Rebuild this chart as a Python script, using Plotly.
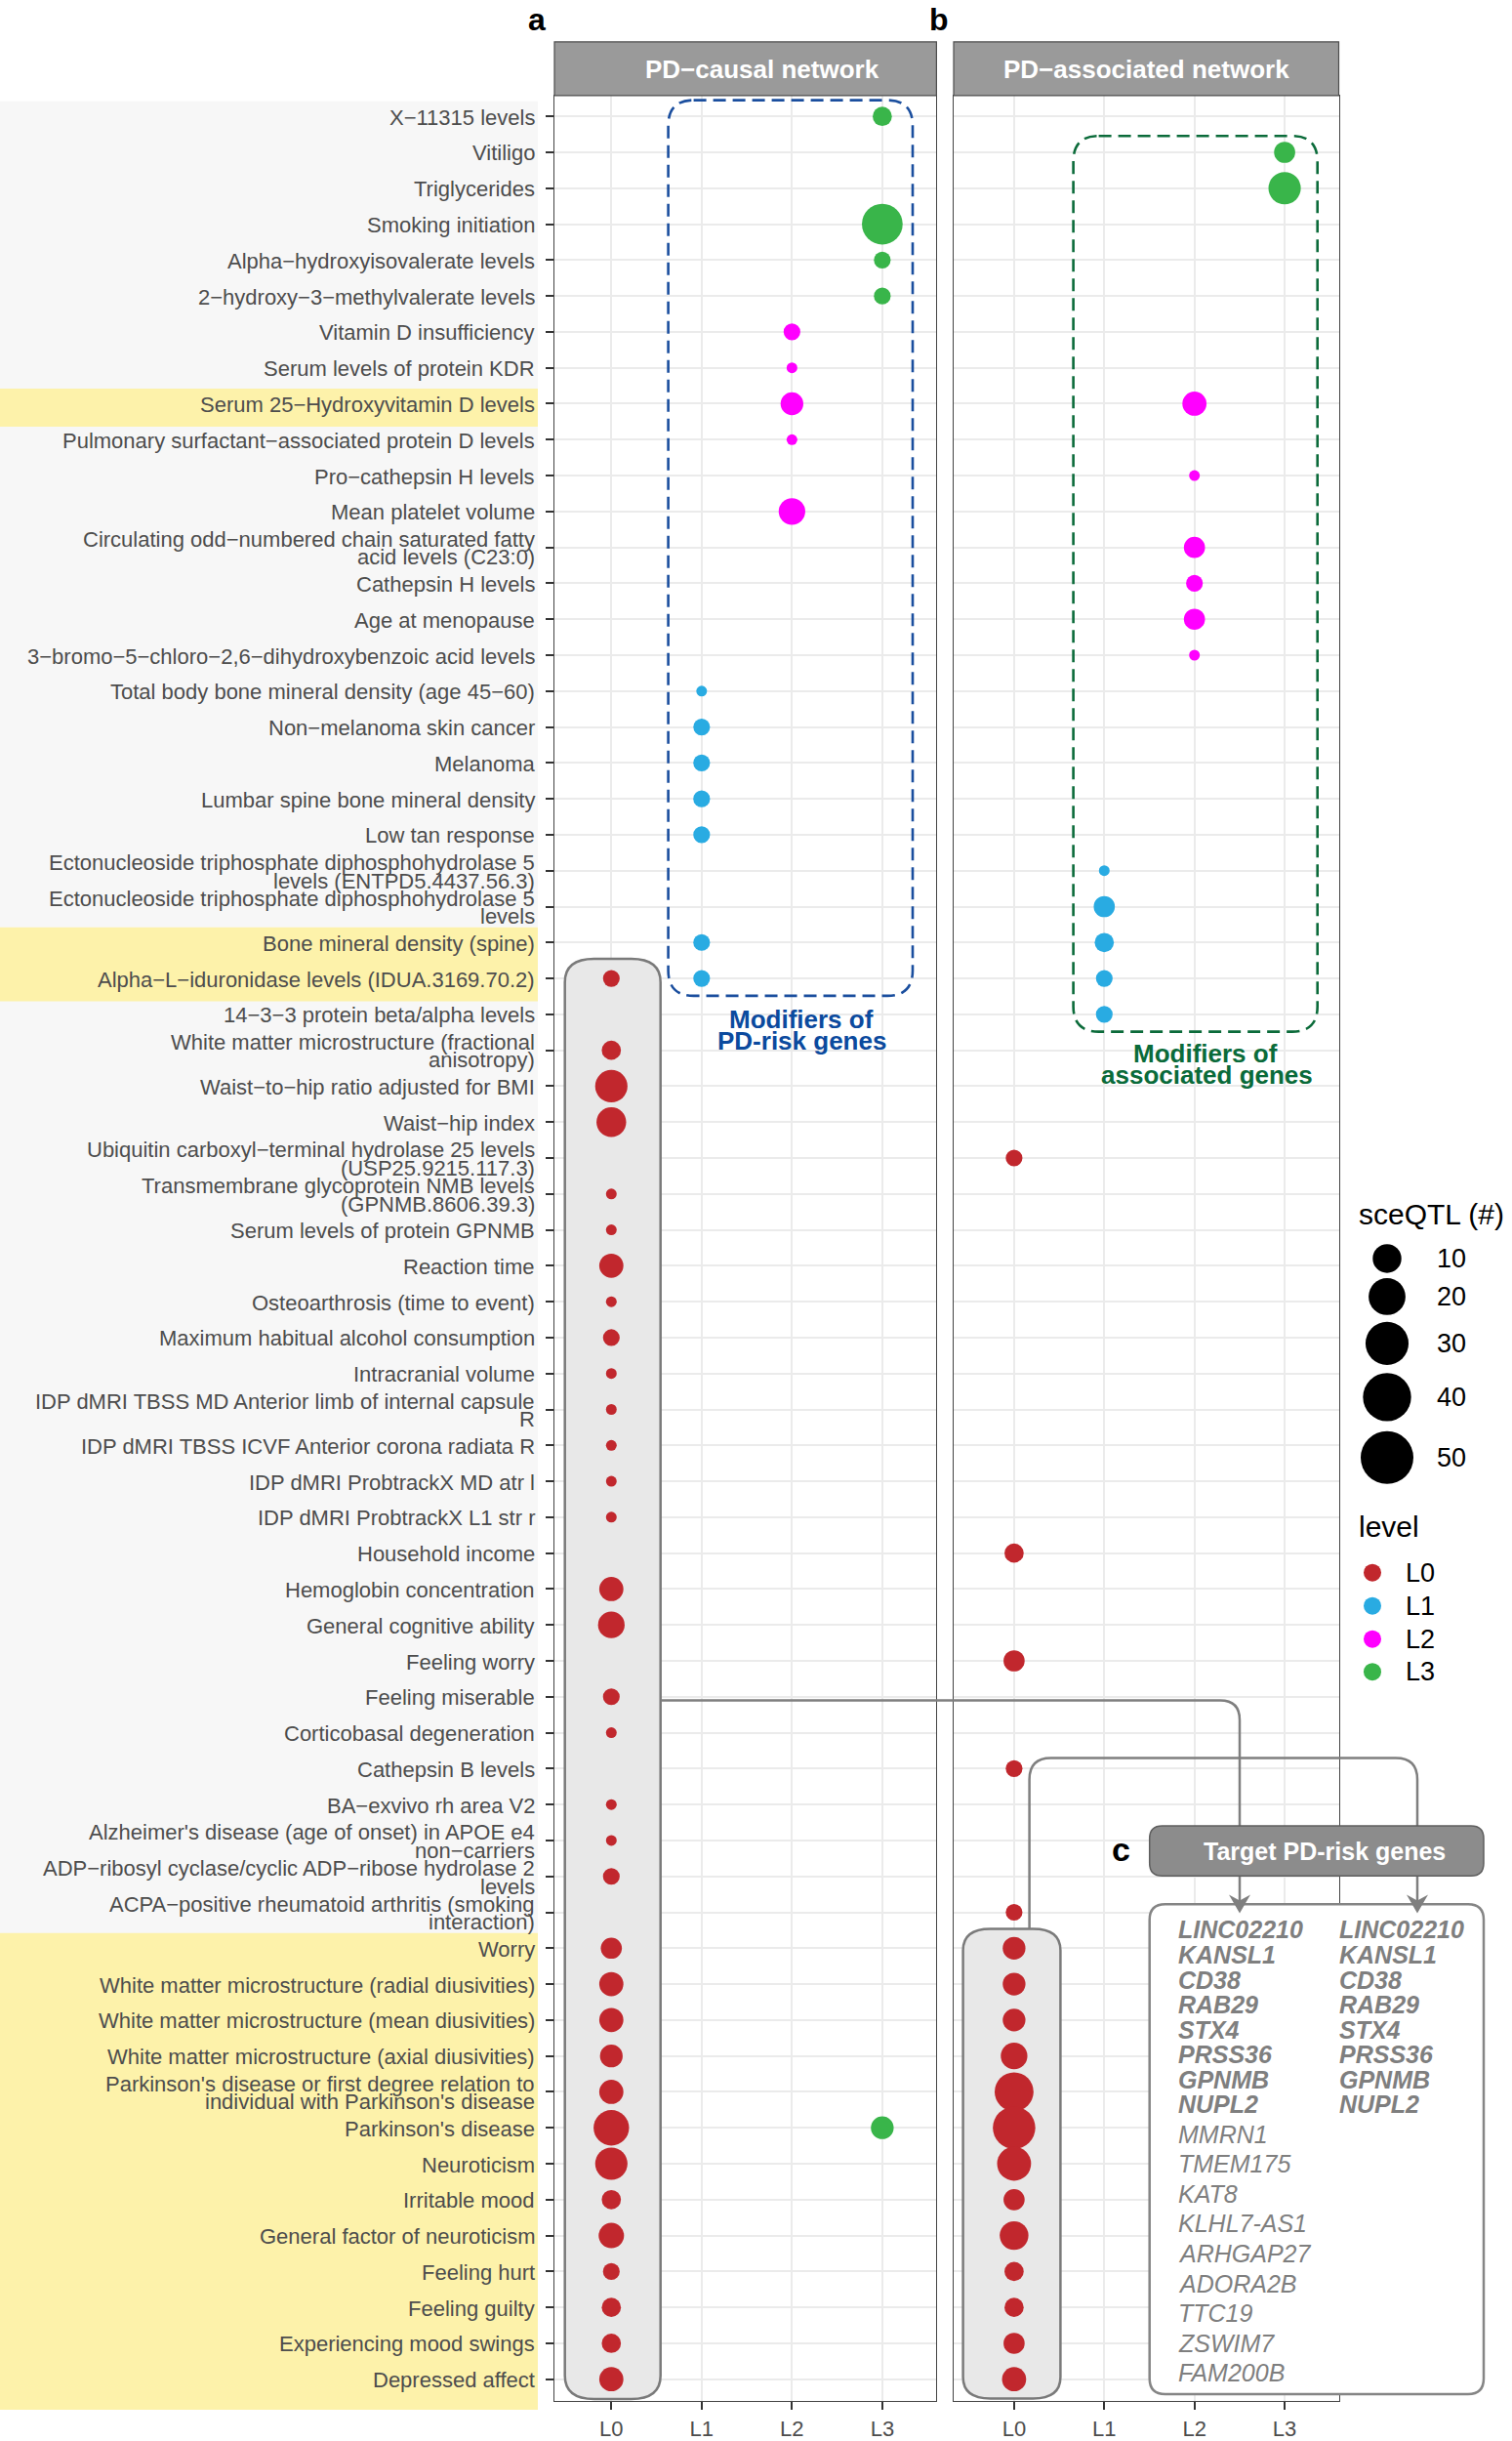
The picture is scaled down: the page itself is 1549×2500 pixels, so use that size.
import math
import plotly.graph_objects as go

W, H = 1549, 2500
FONT = "Liberation Sans, Arial, sans-serif"

# ---------------- data ----------------
levels = ["L0", "L1", "L2", "L3"]
level_colors = ["#C1272D", "#29ABE2", "#FF00FF", "#39B54A"]

traits = [
    "X−11315 levels",
    "Vitiligo",
    "Triglycerides",
    "Smoking initiation",
    "Alpha−hydroxyisovalerate levels",
    "2−hydroxy−3−methylvalerate levels",
    "Vitamin D insufficiency",
    "Serum levels of protein KDR",
    "Serum 25−Hydroxyvitamin D levels",
    "Pulmonary surfactant−associated protein D levels",
    "Pro−cathepsin H levels",
    "Mean platelet volume",
    "Circulating odd−numbered chain saturated fatty\nacid levels (C23:0)",
    "Cathepsin H levels",
    "Age at menopause",
    "3−bromo−5−chloro−2,6−dihydroxybenzoic acid levels",
    "Total body bone mineral density (age 45−60)",
    "Non−melanoma skin cancer",
    "Melanoma",
    "Lumbar spine bone mineral density",
    "Low tan response",
    "Ectonucleoside triphosphate diphosphohydrolase 5\nlevels (ENTPD5.4437.56.3)",
    "Ectonucleoside triphosphate diphosphohydrolase 5\nlevels",
    "Bone mineral density (spine)",
    "Alpha−L−iduronidase levels (IDUA.3169.70.2)",
    "14−3−3 protein beta/alpha levels",
    "White matter microstructure (fractional\nanisotropy)",
    "Waist−to−hip ratio adjusted for BMI",
    "Waist−hip index",
    "Ubiquitin carboxyl−terminal hydrolase 25 levels\n(USP25.9215.117.3)",
    "Transmembrane glycoprotein NMB levels\n(GPNMB.8606.39.3)",
    "Serum levels of protein GPNMB",
    "Reaction time",
    "Osteoarthrosis (time to event)",
    "Maximum habitual alcohol consumption",
    "Intracranial volume",
    "IDP dMRI TBSS MD Anterior limb of internal capsule\nR",
    "IDP dMRI TBSS ICVF Anterior corona radiata R",
    "IDP dMRI ProbtrackX MD atr l",
    "IDP dMRI ProbtrackX L1 str r",
    "Household income",
    "Hemoglobin concentration",
    "General cognitive ability",
    "Feeling worry",
    "Feeling miserable",
    "Corticobasal degeneration",
    "Cathepsin B levels",
    "BA−exvivo rh area V2",
    "Alzheimer's disease (age of onset) in APOE e4\nnon−carriers",
    "ADP−ribosyl cyclase/cyclic ADP−ribose hydrolase 2\nlevels",
    "ACPA−positive rheumatoid arthritis (smoking\ninteraction)",
    "Worry",
    "White matter microstructure (radial diusivities)",
    "White matter microstructure (mean diusivities)",
    "White matter microstructure (axial diusivities)",
    "Parkinson's disease or first degree relation to\nindividual with Parkinson's disease",
    "Parkinson's disease",
    "Neuroticism",
    "Irritable mood",
    "General factor of neuroticism",
    "Feeling hurt",
    "Feeling guilty",
    "Experiencing mood swings",
    "Depressed affect",
]

# highlighted trait groups (first row, last row; 1-based)
highlight_groups = [(9, 9), (24, 25), (52, 64)]

# Panel a: PD-causal network
causal_row = [1, 4, 5, 6, 7, 8, 9, 10, 12, 17, 18, 19, 20, 21, 24, 25,
              25, 27, 28, 29, 31, 32, 33, 34, 35, 36, 37, 38, 39, 40,
              42, 43, 45, 46, 48, 49, 50, 52, 53, 54, 55, 56, 57, 57,
              58, 59, 60, 61, 62, 63, 64]
causal_level = ["L3", "L3", "L3", "L3", "L2", "L2", "L2", "L2", "L2",
                "L1", "L1", "L1", "L1", "L1", "L1", "L1",
                "L0", "L0", "L0", "L0", "L0", "L0", "L0", "L0", "L0", "L0",
                "L0", "L0", "L0", "L0", "L0", "L0", "L0", "L0", "L0", "L0",
                "L0", "L0", "L0", "L0", "L0", "L0", "L0", "L3",
                "L0", "L0", "L0", "L0", "L0", "L0", "L0"]
causal_sceqtl = [3, 26, 2, 2, 2, 1, 5, 1, 8, 1, 2, 2, 2, 2, 2, 2,
                 2, 3, 14, 11, 1, 1, 6, 1, 2, 1, 1, 1, 1, 1,
                 6, 8, 2, 1, 1, 1, 2, 4, 6, 6, 5, 6, 18, 5,
                 14, 3, 7, 2, 3, 3, 6]

# Panel b: PD-associated network
assoc_row = [2, 3, 9, 11, 13, 14, 15, 16, 22, 23, 24, 25, 26,
             30, 41, 44, 47, 51, 52, 53, 54, 55, 56, 57, 58, 59, 60,
             61, 62, 63, 64]
assoc_level = ["L3", "L3", "L2", "L2", "L2", "L2", "L2", "L2",
               "L1", "L1", "L1", "L1", "L1",
               "L0", "L0", "L0", "L0", "L0", "L0", "L0", "L0", "L0", "L0",
               "L0", "L0", "L0", "L0", "L0", "L0", "L0", "L0"]
assoc_sceqtl = [4, 14, 6, 1, 4, 2, 4, 1, 1, 4, 3, 2, 2,
                2, 3, 4, 2, 2, 5, 5, 5, 8, 23, 29, 16, 4, 10,
                3, 3, 4, 6]

size_breaks = [10, 20, 30, 40, 50]

genes_causal = ["LINC02210", "KANSL1", "CD38", "RAB29", "STX4", "PRSS36",
                "GPNMB", "NUPL2", "MMRN1", "TMEM175", "KAT8", "KLHL7-AS1",
                "ARHGAP27", "ADORA2B", "TTC19", "ZSWIM7", "FAM200B"]
genes_assoc = ["LINC02210", "KANSL1", "CD38", "RAB29", "STX4", "PRSS36",
               "GPNMB", "NUPL2"]

# ---------------- geometry ----------------
AX_A = (568.0, 959.4, -0.63, 3.6)
AX_B = (977.0, 1371.5, -0.67, 3.6)
Y_PX0, Y_PX1 = 98.0, 2461.0
Y_TOP, Y_BOT = 0.4214, 64.606


def px(x):
    return x / W


def py(y):
    return 1 - y / H


def x_to_data(x, ax):
    d0, d1, r0, r1 = ax
    return r0 + (x - d0) / (d1 - d0) * (r1 - r0)


def y_to_data(y):
    return Y_TOP + (y - Y_PX0) / (Y_PX1 - Y_PX0) * (Y_BOT - Y_TOP)


def row_to_px(r):
    return Y_PX0 + (r - Y_TOP) / (Y_BOT - Y_TOP) * (Y_PX1 - Y_PX0)


def paper_conv(x, y):
    return px(x), py(y)


def rrect(x0, y0, x1, y1, rx, ry, conv=paper_conv):
    def P(x, y):
        a, b = conv(x, y)
        return f"{a:.6f},{b:.6f}"
    return (f"M{P(x0 + rx, y0)} L{P(x1 - rx, y0)} Q{P(x1, y0)} {P(x1, y0 + ry)} "
            f"L{P(x1, y1 - ry)} Q{P(x1, y1)} {P(x1 - rx, y1)} L{P(x0 + rx, y1)} "
            f"Q{P(x0, y1)} {P(x0, y1 - ry)} L{P(x0, y0 + ry)} Q{P(x0, y0)} {P(x0 + rx, y0)} Z")


def polyline(pts, closed=False):
    s = ""
    for i, p in enumerate(pts):
        if p[0] == "Q":
            s += f" Q{px(p[1]):.6f},{py(p[2]):.6f} {px(p[3]):.6f},{py(p[4]):.6f}"
        else:
            s += (" M" if i == 0 else " L") + f"{px(p[0]):.6f},{py(p[1]):.6f}"
    return s.strip() + (" Z" if closed else "")


def dot_diameter(v):
    return 11 + 43 * math.sqrt(max(v - 1, 0) / 49)


# ---------------- figure ----------------
fig = go.Figure()


def add_panel(rows, lvls, vals, xa, ya):
    for li, lev in enumerate(levels):
        idx = [i for i, l in enumerate(lvls) if l == lev]
        if not idx:
            continue
        fig.add_trace(go.Scatter(
            x=[levels.index(lvls[i]) for i in idx],
            y=[rows[i] for i in idx],
            mode="markers",
            marker=dict(size=[dot_diameter(vals[i]) for i in idx],
                        color=level_colors[li], line=dict(width=0), opacity=1),
            xaxis=xa, yaxis=ya, showlegend=False, hoverinfo="skip"))


add_panel(causal_row, causal_level, causal_sceqtl, "x", "y")
add_panel(assoc_row, assoc_level, assoc_sceqtl, "x2", "y2")

# legend glyphs on an overlay axis (pixel units)
fig.add_trace(go.Scatter(
    x=[1421] * len(size_breaks), y=[1290, 1329, 1377, 1432, 1494],
    mode="markers",
    marker=dict(size=[dot_diameter(v) for v in size_breaks], color="black",
                line=dict(width=0), opacity=1),
    xaxis="x3", yaxis="y3", showlegend=False, hoverinfo="skip"))
fig.add_trace(go.Scatter(
    x=[1406] * 4, y=[1612, 1646, 1680, 1713.6], mode="markers",
    marker=dict(size=18, color=level_colors, line=dict(width=0), opacity=1),
    xaxis="x3", yaxis="y3", showlegend=False, hoverinfo="skip"))

shapes = []
# label background
shapes.append(dict(type="rect", xref="paper", yref="paper", x0=0, x1=px(551),
                   y0=py(2470), y1=py(row_to_px(1) - 15.5), fillcolor="#F7F7F7",
                   line=dict(width=0), layer="below"))
for (r0, r1) in highlight_groups:
    top = row_to_px(r0) - 15.5
    bot = 2470 if r1 == len(traits) else row_to_px(r1) + 23.5
    shapes.append(dict(type="rect", xref="paper", yref="paper", x0=0, x1=px(551),
                       y0=py(bot), y1=py(top), fillcolor="#FDF2AA",
                       line=dict(width=0), layer="below"))

# strips
for (x0, x1) in [(568, 959.4), (977, 1371.5)]:
    shapes.append(dict(type="rect", xref="paper", yref="paper", x0=px(x0), x1=px(x1),
                       y0=py(98), y1=py(43), fillcolor="#9A9A9A",
                       line=dict(color="#4D4D4D", width=1.2), layer="above"))

# L0 pills (between gridlines and points)
conv_a = lambda x, y: (x_to_data(x, AX_A), y_to_data(y))
conv_b = lambda x, y: (x_to_data(x, AX_B), y_to_data(y))
shapes.append(dict(type="path", xref="x", yref="y", layer="between",
                   path=rrect(578.7, 982.7, 676.7, 2459, 30, 24, conv_a),
                   fillcolor="#E8E8E8", line=dict(color="#7A7A7A", width=2.5)))
shapes.append(dict(type="path", xref="x2", yref="y2", layer="between",
                   path=rrect(986.6, 1977, 1086.4, 2458.5, 28, 22, conv_b),
                   fillcolor="#E8E8E8", line=dict(color="#7A7A7A", width=2.5)))

# dashed modifier boxes
shapes.append(dict(type="path", xref="paper", yref="paper", layer="above",
                   path=rrect(684.6, 102.7, 935, 1020.7, 26, 26),
                   fillcolor="rgba(0,0,0,0)",
                   line=dict(color="#1A4E9E", width=2.6, dash="13px,7px")))
shapes.append(dict(type="path", xref="paper", yref="paper", layer="above",
                   path=rrect(1099.6, 139.3, 1349.7, 1057.5, 26, 26),
                   fillcolor="rgba(0,0,0,0)",
                   line=dict(color="#0B6B3A", width=2.6, dash="13px,7px")))

# genes box
shapes.append(dict(type="path", xref="paper", yref="paper", layer="above",
                   path=rrect(1177.7, 1951.8, 1520, 2454, 16, 16),
                   fillcolor="white", line=dict(color="#858585", width=2.5)))
# connectors
shapes.append(dict(type="path", xref="paper", yref="paper", layer="above",
                   path=polyline([(677.7, 1742.8), (1250, 1742.8),
                                  ("Q", 1270, 1742.8, 1270, 1762.8), (1270, 1950)]),
                   fillcolor="rgba(0,0,0,0)", line=dict(color="#7F7F7F", width=2.5)))
shapes.append(dict(type="path", xref="paper", yref="paper", layer="above",
                   path=polyline([(1054.6, 1977), (1054.6, 1824),
                                  ("Q", 1054.6, 1802, 1076.6, 1802), (1430, 1802),
                                  ("Q", 1452, 1802, 1452, 1824), (1452, 1950)]),
                   fillcolor="rgba(0,0,0,0)", line=dict(color="#7F7F7F", width=2.5)))
for xc in (1270, 1452):
    shapes.append(dict(type="path", xref="paper", yref="paper", layer="above",
                       path=polyline([(xc - 11, 1942), (xc, 1961), (xc + 11, 1942), (xc, 1948)], closed=True),
                       fillcolor="#7F7F7F", line=dict(width=0)))
# header box
shapes.append(dict(type="path", xref="paper", yref="paper", layer="above",
                   path=rrect(1177.7, 1871.4, 1520, 1922.8, 13, 13),
                   fillcolor="#8C8C8C", line=dict(color="#5E5E5E", width=1.5)))

annotations = []
# y labels
for i, lab in enumerate(traits):
    lines = lab.split("\n")
    shifts = [0] if len(lines) == 1 else [9.3, -9.3]
    for ln, sh in zip(lines, shifts):
        annotations.append(dict(text=ln, xref="paper", yref="y", x=px(549.5), y=i + 1,
                                xanchor="right", yanchor="middle", yshift=sh - 1,
                                showarrow=False,
                                font=dict(family=FONT, size=22, color="#4D4D4D")))


def ann(text, x, y, size, color="black", xanchor="center", bold=False, italic=False,
        yanchor="middle"):
    t = text
    if italic:
        t = f"<i>{t}</i>"
    if bold:
        t = f"<b>{t}</b>"
    annotations.append(dict(text=t, xref="paper", yref="paper", x=px(x), y=py(y),
                            xanchor=xanchor, yanchor=yanchor, showarrow=False,
                            font=dict(family=FONT, size=size, color=color)))


ann("PD−causal network", 781, 71, 26, "white", bold=True)
ann("PD−associated network", 1174, 71, 26, "white", bold=True)
ann("a", 549.5, 0, 32, bold=True, yanchor="top")
ann("b", 962, 0, 32, bold=True, yanchor="top")
ann("c", 1148, 1896, 34, bold=True)
ann("Modifiers of", 821, 1045, 26, "#0B4A9E", bold=True)
ann("PD-risk genes", 821, 1067, 26, "#0B4A9E", bold=True)
ann("Modifiers of", 1235, 1080, 26, "#0A6B3A", bold=True)
ann("associated genes", 1236, 1102, 26, "#0A6B3A", bold=True)
ann("Target PD-risk genes", 1357, 1898, 25, "white", bold=True)

# gene lists
shared = [g for g in genes_causal if g in genes_assoc]
k_b, k_r = 0, 0
for g in genes_causal:
    if g in shared:
        ann(g, 1205, 1978 + 25.6 * k_b, 25, "#7F7F7F", xanchor="left", bold=True, italic=True)
        k_b += 1
    else:
        ann(g, 1205, 2187.5 + 30.6 * k_r, 25, "#7F7F7F", xanchor="left", italic=True)
        k_r += 1
for k, g in enumerate(genes_assoc):
    ann(g, 1370, 1978 + 25.6 * k, 25, "#7F7F7F", xanchor="left", bold=True, italic=True)

# legend texts
ann("sceQTL (#)", 1390, 1244, 30, xanchor="left")
for v, y in zip(size_breaks, [1290, 1329, 1377, 1432, 1494]):
    ann(str(v), 1470, y, 27, xanchor="left")
ann("level", 1390, 1565, 30, xanchor="left")
for lev, y in zip(levels, [1612, 1646, 1680, 1713.6]):
    ann(lev, 1438, y, 27, xanchor="left")

grid = dict(showgrid=True, gridcolor="#EBEBEB", gridwidth=2.2, zeroline=False,
            showline=True, mirror=True, linecolor="#444444", linewidth=1.2)

fig.update_layout(
    width=W, height=H, autosize=False,
    margin=dict(l=0, r=0, t=0, b=0),
    paper_bgcolor="white", plot_bgcolor="white",
    showlegend=False,
    shapes=shapes, annotations=annotations,
    xaxis=dict(domain=[px(AX_A[0]), px(AX_A[1])], range=[AX_A[2], AX_A[3]], anchor="y",
               tickvals=list(range(len(levels))), ticktext=levels,
               ticks="outside", ticklen=8, tickwidth=2, tickcolor="#333333",
               tickfont=dict(family=FONT, size=22, color="#4D4D4D"), **grid),
    yaxis=dict(domain=[py(Y_PX1), py(Y_PX0)], range=[Y_BOT, Y_TOP], anchor="x",
               tickvals=list(range(1, len(traits) + 1)), showticklabels=False,
               ticks="outside", ticklen=8, tickwidth=2, tickcolor="#333333", **grid),
    xaxis2=dict(domain=[px(AX_B[0]), px(AX_B[1])], range=[AX_B[2], AX_B[3]], anchor="y2",
                tickvals=list(range(len(levels))), ticktext=levels,
                ticks="outside", ticklen=8, tickwidth=2, tickcolor="#333333",
                tickfont=dict(family=FONT, size=22, color="#4D4D4D"), **grid),
    yaxis2=dict(domain=[py(Y_PX1), py(Y_PX0)], range=[Y_BOT, Y_TOP], anchor="x2",
                tickvals=list(range(1, len(traits) + 1)), showticklabels=False,
                ticks="", **grid),
    xaxis3=dict(domain=[px(1380), 1.0], range=[1380, 1549], anchor="y3", visible=False),
    yaxis3=dict(domain=[py(1730), py(1230)], range=[1730, 1230], anchor="x3", visible=False),
)

fig.write_html("out.html", config={"displayModeBar": False},
               post_script="document.body.style.margin='0';document.body.style.padding='0';")
